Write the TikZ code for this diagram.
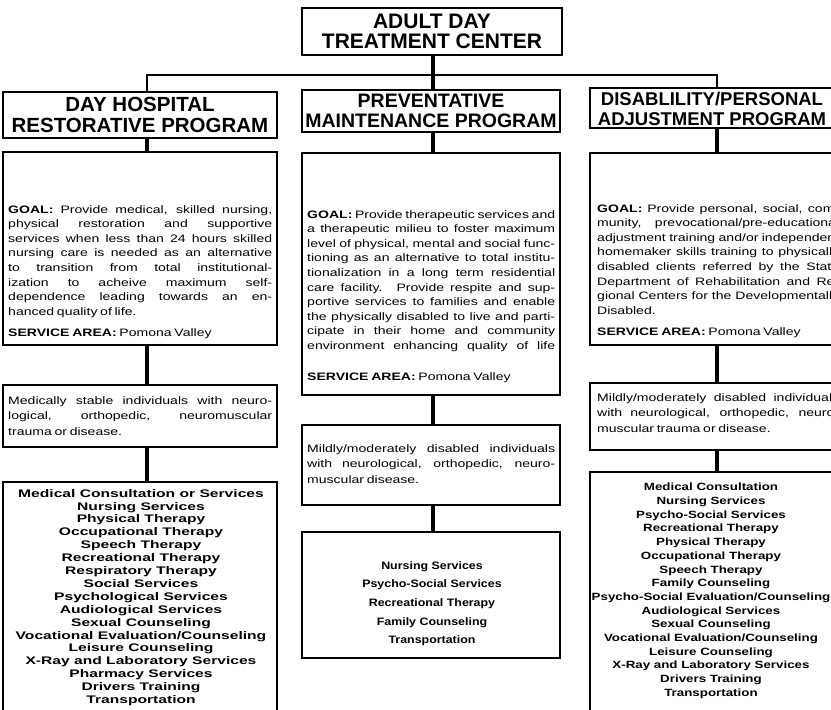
\documentclass[tikz,border=0pt]{standalone}
\usepackage{fontspec}
\setmainfont{Liberation Sans}
\newfontfamily\hdrfont{Liberation Sans}
\newfontfamily\gfont[FakeStretch=1.3]{Liberation Sans}
\newfontfamily\svcfontL[FakeStretch=1.42]{Liberation Sans}
\newfontfamily\svcfontM[FakeStretch=1.15]{Liberation Sans}
\newfontfamily\svcfontR[FakeStretch=1.27]{Liberation Sans}
\newlength\gw
\newcommand\jl[1]{\makebox[\gw][s]{#1}}
\begin{document}
\begin{tikzpicture}[x=1pt,y=-1pt]
\tikzset{
  box/.style={draw, line width=1.4pt, inner sep=0pt, rectangle},
  conn/.style={line width=3.8pt},
  bus/.style={line width=2.6pt, line join=miter},
  hdr/.style={font=\hdrfont\bfseries\fontsize{#1}{20.5}\selectfont, align=center, inner sep=0pt},
  gtext/.style={font=\gfont\fontsize{10.8}{14.6}\selectfont, align=left, inner sep=0pt, anchor=north west,
    execute at begin node={\setlength\gw{#1}\spaceskip=0.25em plus 3em minus 0.15em\relax}},
  ptext/.style={font=\gfont\fontsize{10.8}{15.5}\selectfont, align=left, inner sep=0pt, anchor=north west,
    execute at begin node={\setlength\gw{#1}\spaceskip=0.25em plus 3em minus 0.15em\relax}},
  svcL/.style={font=\svcfontL\bfseries\fontsize{11}{12.9}\selectfont, align=center, inner sep=0pt, anchor=north},
  svcM/.style={font=\svcfontM\bfseries\fontsize{10.8}{18.7}\selectfont, align=center, inner sep=0pt, anchor=north},
  svcR/.style={font=\svcfontR\bfseries\fontsize{10.5}{13.7}\selectfont, align=center, inner sep=0pt, anchor=north},
}
\useasboundingbox (0,0) rectangle (831,710);
\fill[white] (0,0) rectangle (831,710);
\clip (0,0) rectangle (831,710);

% column connector x positions
\coordinate (lx) at (147,0);
\coordinate (mx) at (433,0);
\coordinate (rx) at (717,0);
\coordinate (busL) at (147,75);
\coordinate (busR) at (717,75);

% boxes
\node[box, minimum width=260pt, minimum height=47pt] (top) at (432,31.5) {};
\node[box, minimum width=274pt, minimum height=46pt] (LH) at (140,115) {};
\node[box, minimum width=258pt, minimum height=42pt] (MH) at (431,111) {};
\node[box, minimum width=255pt, minimum height=40pt] (RH) at (717.5,108) {};
\node[box, minimum width=274pt, minimum height=193pt] (LG) at (140,248.5) {};
\node[box, minimum width=258pt, minimum height=242pt] (MG) at (431,274) {};
\node[box, minimum width=255pt, minimum height=192pt] (RG) at (717.5,249) {};
\node[box, minimum width=274pt, minimum height=62pt] (LP) at (140,416) {};
\node[box, minimum width=258pt, minimum height=80pt] (MP) at (431,465) {};
\node[box, minimum width=255pt, minimum height=67pt] (RP) at (717.5,416.5) {};
\node[box, minimum width=274pt, minimum height=248pt] (LS) at (140,606) {};
\node[box, minimum width=258pt, minimum height=126pt] (MS) at (431,595) {};
\node[box, minimum width=255pt, minimum height=258pt] (RS) at (717.5,601) {};

% connectors
\draw[bus] (LH.north -| lx) -- (busL) -- (busR) -- (RH.north -| rx);
\draw[conn] (top.south -| mx) -- (MH.north -| mx);
\draw[conn] (LH.south -| lx) -- (LG.north -| lx);
\draw[conn] (MH.south -| mx) -- (MG.north -| mx);
\draw[conn] (RH.south -| rx) -- (RG.north -| rx);
\draw[conn] (LG.south -| lx) -- (LP.north -| lx);
\draw[conn] (MG.south -| mx) -- (MP.north -| mx);
\draw[conn] (RG.south -| rx) -- (RP.north -| rx);
\draw[conn] (LP.south -| lx) -- (LS.north -| lx);
\draw[conn] (MP.south -| mx) -- (MS.north -| mx);
\draw[conn] (RP.south -| rx) -- (RS.north -| rx);

% headers
\node[hdr=21] (topT) at (top.center) {ADULT DAY\\TREATMENT CENTER};
\node[hdr=20.5] (LHT) at (LH.center) {DAY HOSPITAL\\RESTORATIVE PROGRAM};
\node[hdr=19.5] (MHT) at (MH.center) {PREVENTATIVE\\MAINTENANCE PROGRAM};
\node[hdr=18.5] (RHT) at (712,109) {DISABLILITY/PERSONAL\\ADJUSTMENT PROGRAM};

% goals
\node[gtext=264pt] (LGT) at (8,205) {%
\jl{{\bfseries GOAL:} Provide medical, skilled nursing,}\\
\jl{physical restoration and supportive}\\
\jl{services when less than 24 hours skilled}\\
\jl{nursing care is needed as an alternative}\\
\jl{to transition from total institutional-}\\
\jl{ization to acheive maximum self-}\\
\jl{dependence leading towards an en-}\\
hanced quality of life.\\[7pt]
{\bfseries SERVICE AREA:} Pomona Valley};

\node[gtext=248pt] (MGT) at (307,210) {%
\jl{{\bfseries GOAL:} Provide therapeutic services and}\\
\jl{a therapeutic milieu to foster maximum}\\
\jl{level of physical, mental and social func-}\\
\jl{tioning as an alternative to total institu-}\\
\jl{tionalization in a long term residential}\\
\jl{care facility. Provide respite and sup-}\\
\jl{portive services to families and enable}\\
\jl{the physically disabled to live and parti-}\\
\jl{cipate in their home and community}\\
\jl{environment enhancing quality of life}\\[16pt]
{\bfseries SERVICE AREA:} Pomona Valley};

\node[gtext=242pt] (RGT) at (597,204) {%
\jl{{\bfseries GOAL:} Provide personal, social, com-}\\
\jl{munity, prevocational/pre-educational}\\
\jl{adjustment training and/or independent}\\
\jl{homemaker skills training to physically}\\
\jl{disabled clients referred by the State}\\
\jl{Department of Rehabilitation and Re-}\\
\jl{gional Centers for the Developmentally}\\
Disabled.\\[7pt]
{\bfseries SERVICE AREA:} Pomona Valley};

% populations
\node[ptext=264pt] (LPT) at (8,396) {%
\jl{Medically stable individuals with neuro-}\\
\jl{logical, orthopedic, neuromuscular}\\
trauma or disease.};
\node[ptext=248pt] (MPT) at (307,444) {%
\jl{Mildly/moderately disabled individuals}\\
\jl{with neurological, orthopedic, neuro-}\\
muscular disease.};
\node[ptext=242pt] (RPT) at (597,393) {%
\jl{Mildly/moderately disabled individuals}\\
\jl{with neurological, orthopedic, neuro-}\\
muscular trauma or disease.};

% services
\node[svcL] (LST) at (141,489) {Medical Consultation or Services\\Nursing Services\\Physical Therapy\\Occupational Therapy\\Speech Therapy\\Recreational Therapy\\Respiratory Therapy\\Social Services\\Psychological Services\\Audiological Services\\Sexual Counseling\\Vocational Evaluation/Counseling\\Leisure Counseling\\X-Ray and Laboratory Services\\Pharmacy Services\\Drivers Training\\Transportation};
\node[svcM] (MST) at (432,561) {Nursing Services\\Psycho-Social Services\\Recreational Therapy\\Family Counseling\\Transportation};
\node[svcR] (RST) at (711,483) {Medical Consultation\\Nursing Services\\Psycho-Social Services\\Recreational Therapy\\Physical Therapy\\Occupational Therapy\\Speech Therapy\\Family Counseling\\Psycho-Social Evaluation/Counseling\\Audiological Services\\Sexual Counseling\\Vocational Evaluation/Counseling\\Leisure Counseling\\X-Ray and Laboratory Services\\Drivers Training\\Transportation};
\end{tikzpicture}
\end{document}
